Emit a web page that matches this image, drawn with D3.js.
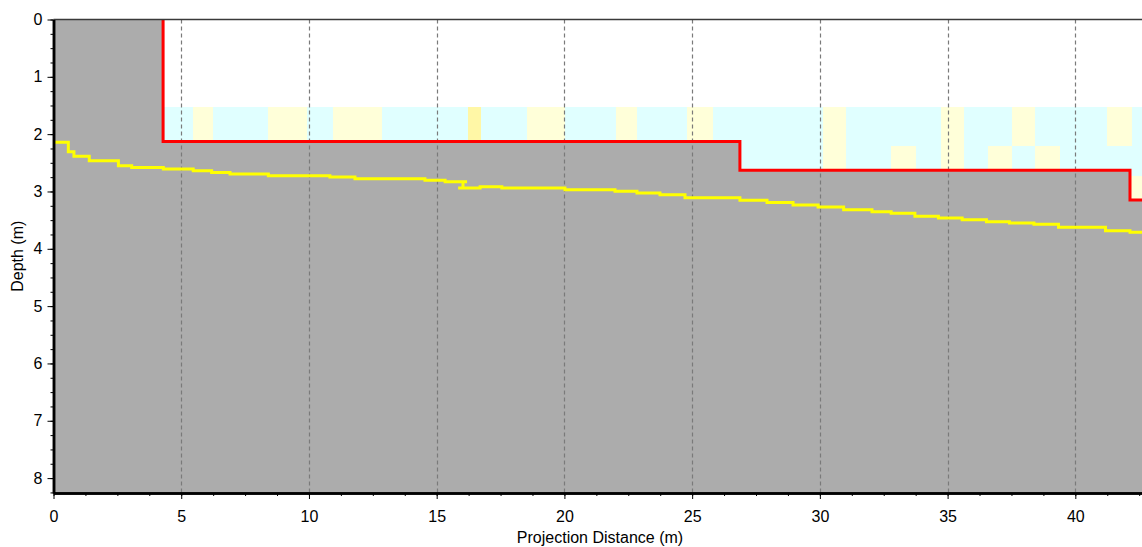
<!DOCTYPE html>
<html>
<head>
<meta charset="utf-8">
<script src="https://cdn.jsdelivr.net/npm/d3@7"></script>
<style>
  html, body { margin: 0; padding: 0; background: #ffffff; }
  svg { display: block; }
  text { font-family: "Liberation Sans", Arial, sans-serif; }
</style>
</head>
<body>
<svg id="chart" width="1142" height="547"></svg>
<script>
// ---------------- data ----------------
const xTickLabels = [0, 5, 10, 15, 20, 25, 30, 35, 40];
const yTickLabels = [0, 1, 2, 3, 4, 5, 6, 7, 8];
const xLabel = "Projection Distance (m)";
const yLabel = "Depth (m)";

// ground boundary (red line) – projection distance (m) / depth (m)
const boundaryX     = [4.29, 4.29, 26.87, 26.87, 42.14, 42.14, 42.61];
const boundaryDepth = [0.00, 2.13, 2.13,  2.63,  2.63,  3.15,  3.15];

// yellow track (stepped)
const trackX = [0, 0.58, 0.80, 1.40, 2.54, 3.06, 4.30, 5.47, 6.19, 6.91, 8.41, 10.82, 11.80, 14.54, 15.33,
  16.19, 16.03, 15.84, 16.70, 17.55, 20.02, 21.98, 22.84, 23.74, 24.72, 26.87, 27.93, 28.95, 29.93,
  30.93, 32.04, 32.79, 33.72, 34.64, 35.57, 36.52, 37.42, 38.38, 39.34, 41.18, 42.14, 42.61];
const trackDepth = [2.142, 2.306, 2.387, 2.465, 2.552, 2.582, 2.608, 2.640, 2.669, 2.695, 2.725, 2.748, 2.777, 2.805, 2.831,
  2.831, 2.940, 2.940, 2.917, 2.940, 2.969, 2.997, 3.027, 3.057, 3.109, 3.154, 3.193, 3.236, 3.271,
  3.318, 3.353, 3.381, 3.433, 3.463, 3.493, 3.528, 3.550, 3.573, 3.625, 3.685, 3.712, 3.712];

// band cells (C = cyan, Y = pale yellow, D = deeper yellow)
const rowTop    = [1.53, 2.20, 2.73];
const rowBottom = [2.20, 2.73, 3.30];
const row1Edges = [4.29, 5.47, 6.23, 8.41, 9.94, 10.93, 12.85, 16.24, 16.74, 18.52, 20.02, 22.00, 22.85,
  24.79, 25.81, 30.14, 31.01, 34.73, 35.64, 37.51, 38.42, 41.23, 42.21, 42.61];
const row1Types = ["C","Y","C","Y","C","Y","C","D","C","Y","C","Y","C","Y","C","Y","C","Y","C","Y","C","Y","C"];
const row2Edges = [4.29, 30.14, 31.01, 32.80, 33.76, 34.73, 35.64, 36.57, 37.51, 38.42, 39.41, 42.61];
const row2Types = ["C","Y","C","Y","C","Y","C","Y","C","Y","C"];
const row3Edges = [42.00, 42.61];
const row3Types = ["Y"];

// ---------------- drawing ----------------
const mLeft = 53.5, mRight = 1142, mTop = 19.5, mBottom = 493;
const xMax = 42.61, yMax = 8.26;

const x = d3.scaleLinear().domain([0, xMax]).range([mLeft, mRight]);
const y = d3.scaleLinear().domain([0, yMax]).range([mTop, mBottom]);

const colors = { C: "#e0ffff", Y: "#ffffd9", D: "#fff7a6" };

const svg = d3.select("#chart");

// cells
const cells = [];
[[row1Edges, row1Types], [row2Edges, row2Types], [row3Edges, row3Types]].forEach(([edges, types], r) => {
  types.forEach((t, i) => cells.push({ x0: edges[i], x1: edges[i + 1], d0: rowTop[r], d1: rowBottom[r], t }));
});
svg.append("g").selectAll("rect").data(cells).join("rect")
  .attr("x", d => x(d.x0)).attr("width", d => x(d.x1) - x(d.x0))
  .attr("y", d => y(d.d0)).attr("height", d => y(d.d1) - y(d.d0))
  .attr("fill", d => colors[d.t]).attr("shape-rendering", "crispEdges");

// ground polygon
const groundPts = [[0, 0]].concat(boundaryX.map((v, i) => [v, boundaryDepth[i]]))
  .concat([[xMax, yMax], [0, yMax]]);
svg.append("path")
  .attr("d", d3.line().x(d => x(d[0])).y(d => y(d[1]))(groundPts) + "Z")
  .attr("fill", "#acacac");

// grid (vertical dashed)
svg.append("g").selectAll("line").data(xTickLabels.filter(v => v > 0)).join("line")
  .attr("x1", d => Math.round(x(d)) + 0.5).attr("x2", d => Math.round(x(d)) + 0.5)
  .attr("y1", mTop).attr("y2", mBottom)
  .attr("stroke", "#7a7a7a").attr("stroke-width", 1.2).attr("stroke-dasharray", "4,3");

// yellow track
svg.append("path")
  .datum(trackX.map((v, i) => [v, trackDepth[i]]))
  .attr("d", d3.line().x(d => x(d[0])).y(d => y(d[1])).curve(d3.curveStepAfter))
  .attr("fill", "none").attr("stroke", "#ffff00").attr("stroke-width", 3);

// red boundary
svg.append("path")
  .datum(boundaryX.map((v, i) => [v, boundaryDepth[i]]))
  .attr("d", d3.line().x(d => x(d[0])).y(d => y(d[1])))
  .attr("fill", "none").attr("stroke", "#ff0000").attr("stroke-width", 3);

// top border
svg.append("line").attr("x1", mLeft).attr("x2", mRight).attr("y1", mTop).attr("y2", mTop)
  .attr("stroke", "#3a3a3a").attr("stroke-width", 1.5);

// axes
const xMinor = d3.range(0, xMax, 1.25);
const yMinor = d3.range(0, yMax, 0.25);

const gx = svg.append("g").attr("transform", `translate(0,${mBottom})`);
gx.call(d3.axisBottom(x).tickValues(xMinor).tickSize(3).tickSizeOuter(0).tickFormat(""));
gx.append("g").call(d3.axisBottom(x).tickValues(xTickLabels).tickSize(6).tickSizeOuter(0).tickPadding(12).tickFormat(d3.format("d")));

const gy = svg.append("g").attr("transform", `translate(${mLeft},0)`);
gy.call(d3.axisLeft(y).tickValues(yMinor).tickSize(3).tickSizeOuter(0).tickFormat(""));
gy.append("g").call(d3.axisLeft(y).tickValues(yTickLabels).tickSize(6).tickSizeOuter(0).tickPadding(5).tickFormat(d3.format("d")));

svg.selectAll(".domain").attr("stroke", "#000").attr("stroke-width", 2.5);
svg.selectAll(".tick line").attr("stroke", "#000");
svg.selectAll(".tick text").attr("font-size", 16).attr("fill", "#000")
  .attr("font-family", "'Liberation Sans', Arial, sans-serif");

// axis titles
svg.append("text").attr("x", 600).attr("y", 543).attr("text-anchor", "middle")
  .attr("font-size", 16).text(xLabel);
svg.append("text").attr("transform", `translate(23,${(mTop + mBottom) / 2}) rotate(-90)`)
  .attr("text-anchor", "middle").attr("font-size", 16).text(yLabel);
</script>
</body>
</html>
